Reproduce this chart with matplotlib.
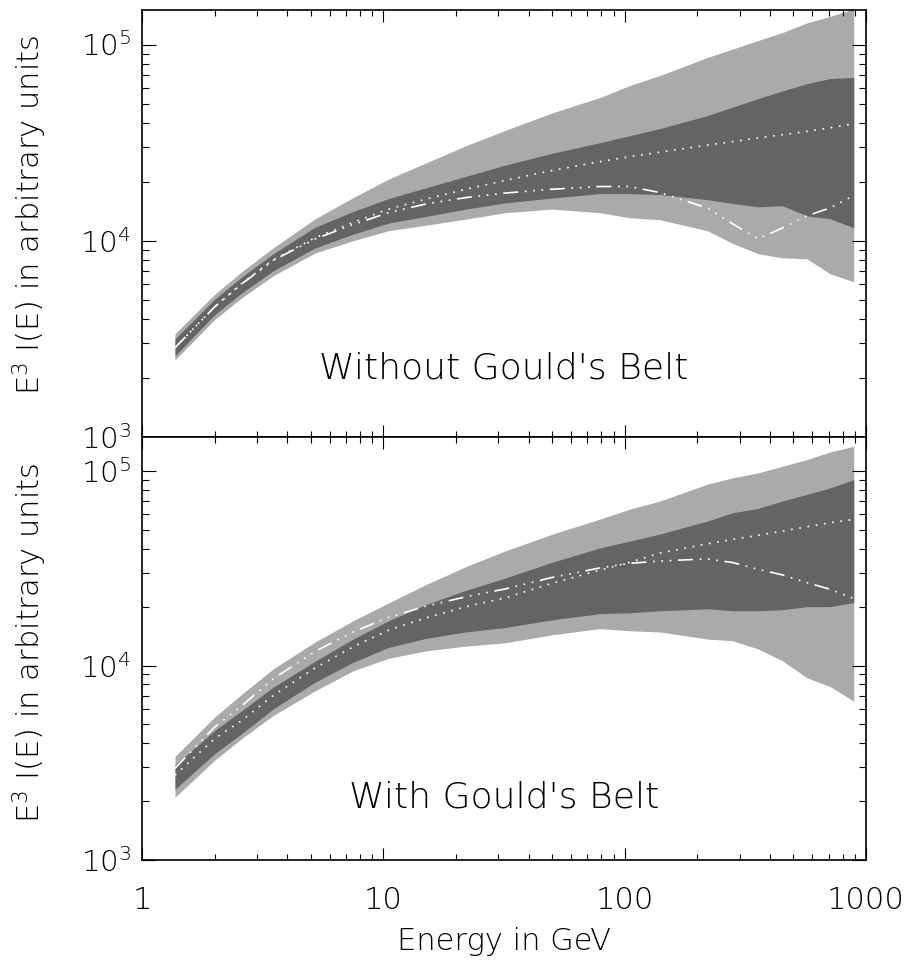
import matplotlib
matplotlib.use("Agg")
import matplotlib.pyplot as plt
from matplotlib.ticker import FuncFormatter, NullFormatter, LogLocator

plt.rcParams['font.family'] = ['DejaVu Sans']
plt.rcParams['font.weight'] = 'light'
plt.rcParams['mathtext.fontset'] = 'custom'
plt.rcParams['mathtext.rm'] = 'DejaVu Sans:light'
plt.rcParams['mathtext.it'] = 'DejaVu Sans:light'
plt.rcParams['mathtext.default'] = 'regular'

# energies (GeV) at which the curves were read
energy = [1.37, 2.0, 2.6, 3.5, 5.2, 7.5, 10.5, 15, 22, 32, 50, 79, 105, 140,
          220, 280, 357, 450, 570, 710, 890]

# panel 1: without Gould's Belt
top_outer_hi = [3360, 5330, 6980, 9210, 12900, 16600, 20600, 24900, 30500, 36500, 44800,
                53700, 61800, 69500, 85900, 94800, 104800, 115000, 129000, 139000, 152000]
top_inner_hi = [3160, 5030, 6560, 8590, 11700, 14100, 16400, 18600, 21300, 24300, 27900,
                31600, 34300, 37300, 43400, 48000, 53000, 58000, 63200, 67100, 67900]
top_dotted = [2850, 4610, 6070, 8000, 10350, 12400, 14500, 16300, 18300, 20300, 22800,
              25300, 26800, 28300, 30700, 32000, 33400, 34700, 36100, 37600, 39500]
top_dashdot = [2850, 4600, 6050, 7950, 10200, 12100, 13900, 15400, 16600, 17500, 18300,
               18900, 18900, 17600, 14700, 12200, 10240, 11600, 13400, 14700, 17000]
top_inner_lo = [2590, 4200, 5440, 7030, 9180, 10800, 12300, 13300, 14500, 15600, 16500,
                17400, 17400, 17200, 16200, 15500, 14900, 15100, 13400, 12950, 11650]
top_outer_lo = [2470, 3970, 5140, 6630, 8650, 10000, 11250, 12000, 12900, 13900, 14500,
                13900, 13100, 12800, 11250, 9700, 8590, 8190, 8090, 6790, 6180]

# panel 2: with Gould's Belt
bot_outer_hi = [3410, 5430, 7150, 9620, 13200, 17000, 21000, 26100, 32300, 38900, 47400,
                56700, 63800, 70200, 85700, 92500, 98000, 106000, 114800, 125600, 134300]
bot_inner_hi = [3070, 4640, 5880, 7740, 10500, 13700, 17000, 20600, 24400, 28200, 34000,
                40300, 43700, 47500, 55400, 61100, 64400, 70200, 76000, 82000, 90600]
bot_dotted = [2730, 4210, 5230, 7020, 9700, 12500, 15200, 17600, 20100, 22300, 26500,
              31000, 34000, 37900, 42300, 44600, 46800, 49200, 51800, 54300, 56500]
bot_dashdot = [2960, 4830, 6230, 8550, 11800, 14900, 17700, 20200, 22600, 24800, 28400,
               31800, 33600, 34500, 35400, 33900, 31300, 29300, 26700, 24700, 22100]
bot_inner_lo = [2310, 3520, 4480, 5990, 8200, 10400, 12400, 13800, 14900, 15700, 17200,
                18500, 18700, 19150, 19600, 19150, 19150, 19400, 20100, 20100, 21100]
bot_outer_lo = [2100, 3260, 4230, 5540, 7400, 9400, 10900, 11900, 12600, 13100, 14400,
                15500, 15100, 14900, 13700, 13430, 12180, 10600, 8650, 7800, 6560]

LIGHT = '#aaaaaa'
DARK = '#646464'

fig = plt.figure(figsize=(9.06, 9.6), dpi=100)
ax1 = fig.add_axes([0.1567, 0.5448, 0.7991, 0.4448])
ax2 = fig.add_axes([0.1567, 0.1042, 0.7991, 0.4406])

panels = [
    (ax1, top_outer_lo, top_outer_hi, top_inner_lo, top_inner_hi, top_dotted, top_dashdot,
     "Without Gould's Belt", 0.138),
    (ax2, bot_outer_lo, bot_outer_hi, bot_inner_lo, bot_inner_hi, bot_dotted, bot_dashdot,
     "With Gould's Belt", 0.123),
]

for ax, olo, ohi, ilo, ihi, dot, dd, title, ty in panels:
    ax.fill_between(energy, olo, ohi, color=LIGHT, lw=0)
    ax.fill_between(energy, ilo, ihi, color=DARK, lw=0)
    ax.plot(energy, dot, color='white', lw=1.2, dashes=(1, 4))
    ax.plot(energy, dd, color='white', lw=1.2, dashes=(9, 4, 1, 4, 1, 4, 1, 4))
    ax.set_xscale('log')
    ax.set_yscale('log')
    ax.set_xlim(1, 1000)
    ax.set_ylim(1e3, 1.5e5)
    ax.text(0.5, ty, title, transform=ax.transAxes, ha='center', va='baseline',
            fontsize=26)
    ax.yaxis.set_minor_locator(LogLocator(base=10, subs=range(2, 10)))
    ax.xaxis.set_minor_locator(LogLocator(base=10, subs=range(2, 10)))
    ax.yaxis.set_minor_formatter(NullFormatter())
    ax.xaxis.set_minor_formatter(NullFormatter())
    ax.tick_params(which='both', direction='in', top=True, right=True, width=0.8)
    ax.tick_params(axis='x', which='major', length=8.5)
    ax.tick_params(axis='x', which='minor', length=4.3)
    ax.tick_params(axis='y', which='major', length=10, labelsize=21, pad=8)
    ax.tick_params(axis='y', which='minor', length=5)
    for s in ax.spines.values():
        s.set_linewidth(1.2)

ax1.tick_params(axis='x', labelbottom=False)
ax2.xaxis.set_major_formatter(FuncFormatter(lambda v, p: f"{v:g}"))
ax2.tick_params(axis='x', which='major', labelsize=22, pad=19)

ylab = "E$^{3}$ I(E) in arbitrary units"
fig.text(30 / 906, 1 - 215 / 960, ylab, rotation=90, ha='center', va='center', fontsize=22)
fig.text(30 / 906, 1 - 643 / 960, ylab, rotation=90, ha='center', va='center', fontsize=22)
fig.text(504 / 906, 1 - 942 / 960, "Energy in GeV", ha='center', va='center', fontsize=22)

fig.savefig("out.png", dpi=100)
